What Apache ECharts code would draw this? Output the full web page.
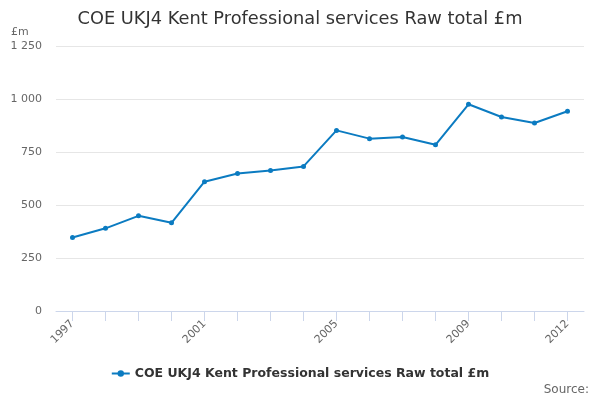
<!DOCTYPE html>
<html><head><meta charset="utf-8">
<script src="https://cdn.jsdelivr.net/npm/echarts@6/dist/echarts.min.js"></script>
<style>html,body{margin:0;padding:0;background:#fff}#c{width:600px;height:400px}</style>
</head><body><div id="c"></div>
<script>
const years = ['1997','1998','1999','2000','2001','2002','2003','2004','2005','2006','2007','2008','2009','2010','2011','2012'];
const values = [347, 390, 449, 416, 610, 649, 663, 682, 852, 813, 821, 784, 975, 915, 887, 942];
const seriesName = 'COE UKJ4 Kent Professional services Raw total £m';
const yTicks = [0, 250, 500, 750, 1000, 1250];

const font = 'DejaVu Sans';
const chart = echarts.init(document.getElementById('c'));
chart.setOption({
  animation: false,
  textStyle: { fontFamily: font },
  title: {
    text: 'COE UKJ4 Kent Professional services Raw total £m',
    left: 'center', top: 5,
    textStyle: { fontFamily: font, fontSize: 17.8, fontWeight: 'normal', color: '#333' }
  },
  graphic: [
    { type: 'text', left: 11, top: 27, style: { text: '£m', font: '11px "DejaVu Sans"', fill: '#666' } },
    { type: 'text', right: 11, top: 384, style: { text: 'Source:', font: '12px "DejaVu Sans"', fill: '#666' } }
  ],
  legend: {
    bottom: 15, left: 'center',
    itemWidth: 18, itemHeight: 8,
    textStyle: { fontFamily: font, fontSize: 12.5, fontWeight: 'bold', color: '#333' },
    data: [seriesName]
  },
  grid: { left: 56, right: 16, top: 46, bottom: 89, containLabel: false },
  xAxis: {
    type: 'category', data: years, boundaryGap: true,
    axisLine: { show: true, lineStyle: { color: '#ccd6eb' } },
    axisTick: { show: true, alignWithLabel: true, interval: 0, length: 10, lineStyle: { color: '#ccd6eb' } },
    axisLabel: {
      rotate: 45, color: '#666', fontSize: 11, fontFamily: font, margin: 11,
      interval: (i) => i % 4 === 0 || i === years.length - 1
    }
  },
  yAxis: {
    type: 'value', min: yTicks[0], max: yTicks[yTicks.length - 1], interval: 250,
    axisLine: { show: false }, axisTick: { show: false },
    splitLine: { lineStyle: { color: '#e6e6e6' } },
    axisLabel: {
      color: '#666', fontSize: 11, fontFamily: font, margin: 14,
      formatter: (v) => String(v).replace(/\B(?=(\d{3})+(?!\d))/g, ' ')
    }
  },
  series: [{
    name: seriesName, type: 'line', data: values,
    symbol: 'circle', symbolSize: 5, showSymbol: true,
    lineStyle: { color: '#0b7bc1', width: 2 },
    itemStyle: { color: '#0b7bc1' }
  }]
});
</script></body></html>
